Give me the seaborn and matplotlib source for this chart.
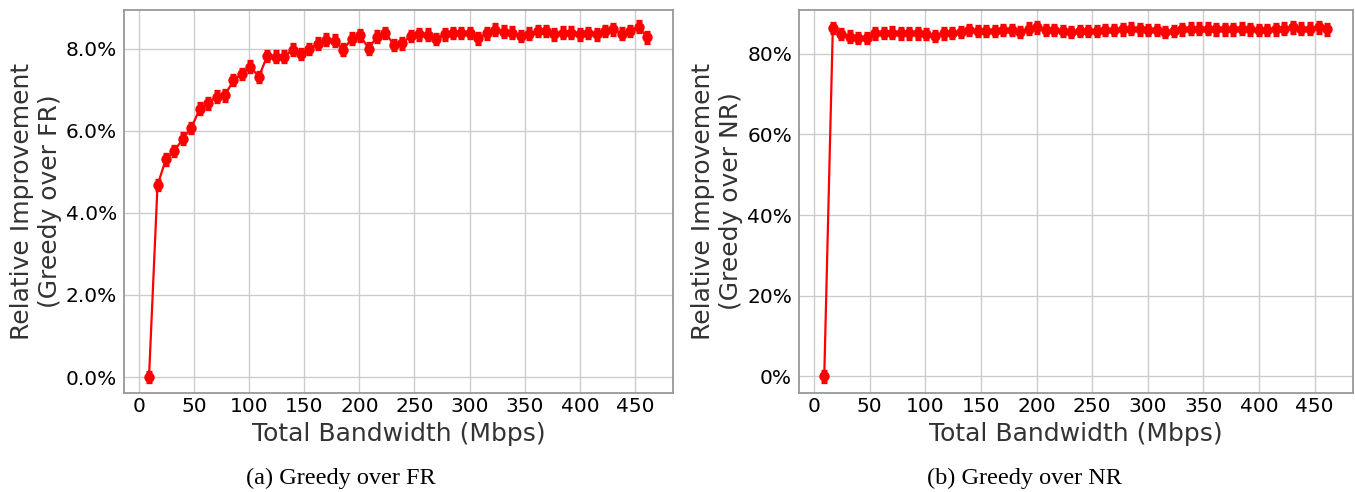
import matplotlib
matplotlib.use("Agg")
import matplotlib.pyplot as plt
import seaborn as sns
import pandas as pd
from matplotlib.ticker import PercentFormatter

bandwidth = [9.2, 16.9, 24.5, 32.2, 39.8, 47.5, 55.2, 62.8, 70.5, 78.1,
             85.8, 93.5, 101.1, 108.8, 116.4, 124.1, 131.8, 139.4, 147.1, 154.7,
             162.4, 170.1, 177.7, 185.4, 193.0, 200.7, 208.4, 216.0, 223.7, 231.3,
             239.0, 246.7, 254.3, 262.0, 269.6, 277.3, 285.0, 292.6, 300.3, 307.9,
             315.6, 323.3, 330.9, 338.6, 346.2, 353.9, 361.6, 369.2, 376.9, 384.5,
             392.2, 399.9, 407.5, 415.2, 422.8, 430.5, 438.2, 445.8, 453.5, 461.1]

impr_fr = [0.00, 4.68, 5.31, 5.51, 5.81, 6.07, 6.54, 6.67, 6.84, 6.87,
           7.24, 7.39, 7.57, 7.32, 7.83, 7.81, 7.81, 7.98, 7.88, 8.00,
           8.13, 8.23, 8.20, 7.98, 8.25, 8.33, 8.01, 8.30, 8.39, 8.10,
           8.14, 8.32, 8.36, 8.35, 8.24, 8.36, 8.39, 8.39, 8.39, 8.26,
           8.38, 8.47, 8.42, 8.40, 8.32, 8.37, 8.44, 8.44, 8.36, 8.40,
           8.40, 8.36, 8.39, 8.36, 8.44, 8.48, 8.37, 8.44, 8.54, 8.28]
err_fr = [0.13] * len(bandwidth)

impr_nr = [0.0, 86.4, 84.8, 84.2, 83.9, 83.9, 85.0, 85.1, 85.2, 85.0,
           85.0, 85.0, 84.8, 84.4, 85.0, 85.1, 85.4, 85.8, 85.6, 85.6,
           85.6, 85.8, 85.8, 85.4, 86.2, 86.5, 85.8, 85.8, 85.6, 85.4,
           85.6, 85.6, 85.6, 85.8, 85.8, 86.0, 86.2, 86.0, 85.8, 85.8,
           85.4, 85.6, 86.0, 86.2, 86.2, 86.2, 86.0, 86.0, 86.0, 86.2,
           86.0, 85.8, 85.8, 86.0, 86.2, 86.5, 86.2, 86.2, 86.5, 86.0]
err_nr = [1.3] * len(bandwidth)

xticks = [0, 50, 100, 150, 200, 250, 300, 350, 400, 450]

sns.set_theme(style="whitegrid")
plt.rcParams['font.family'] = ['DejaVu Sans']

fig = plt.figure(figsize=(13.55, 4.92), dpi=100)
W, H = 1355, 492
axL = fig.add_axes([124 / W, 1 - 393 / H, (673 - 124) / W, (393 - 10) / H])
axR = fig.add_axes([799 / W, 1 - 393 / H, (1353 - 799) / W, (393 - 10) / H])

panels = [
    (axL, impr_fr, err_fr, "Relative Improvement\n(Greedy over FR)", 1, (-0.39, 8.95)),
    (axR, impr_nr, err_nr, "Relative Improvement\n(Greedy over NR)", 0, (-4.1, 90.8)),
]

for ax, vals, errs, ylab, dec, ylim in panels:
    df = pd.DataFrame({"bw": bandwidth, "v": vals, "e": errs})
    sns.lineplot(data=df, x="bw", y="v", ax=ax, color="red", linewidth=1.6,
                 marker="o", markersize=7.5, markeredgewidth=0)
    ax.errorbar(df["bw"], df["v"], yerr=df["e"], fmt="none", ecolor="red",
                elinewidth=2.4, capsize=2.5, capthick=2.4)
    ax.set_xlim(-13.5, 484.5)
    ax.set_ylim(*ylim)
    ax.set_xticks(xticks)
    ax.yaxis.set_major_formatter(PercentFormatter(decimals=dec))
    ax.set_xlabel("Total Bandwidth (Mbps)", fontsize=18, color="#333333", labelpad=4)
    ax.set_ylabel(ylab, fontsize=18, color="#333333", labelpad=3)
    ax.tick_params(axis="both", labelsize=14.5, colors="black", length=3,
                   width=1, pad=2, color="0.4")
    ax.tick_params(axis="x", length=0, pad=3)
    ax.grid(True, color="#cccccc", linewidth=1)
    for sp in ax.spines.values():
        sp.set_color("0.6")
        sp.set_linewidth(1.3)

fig.text(341 / W, 1 - 478 / H, "(a) Greedy over FR", ha="center", va="center",
         fontsize=17.5, family=["Liberation Serif", "DejaVu Serif"], color="black")
fig.text(1024 / W, 1 - 478 / H, "(b) Greedy over NR", ha="center", va="center",
         fontsize=17.5, family=["Liberation Serif", "DejaVu Serif"], color="black")

fig.savefig("out.png", dpi=100)
